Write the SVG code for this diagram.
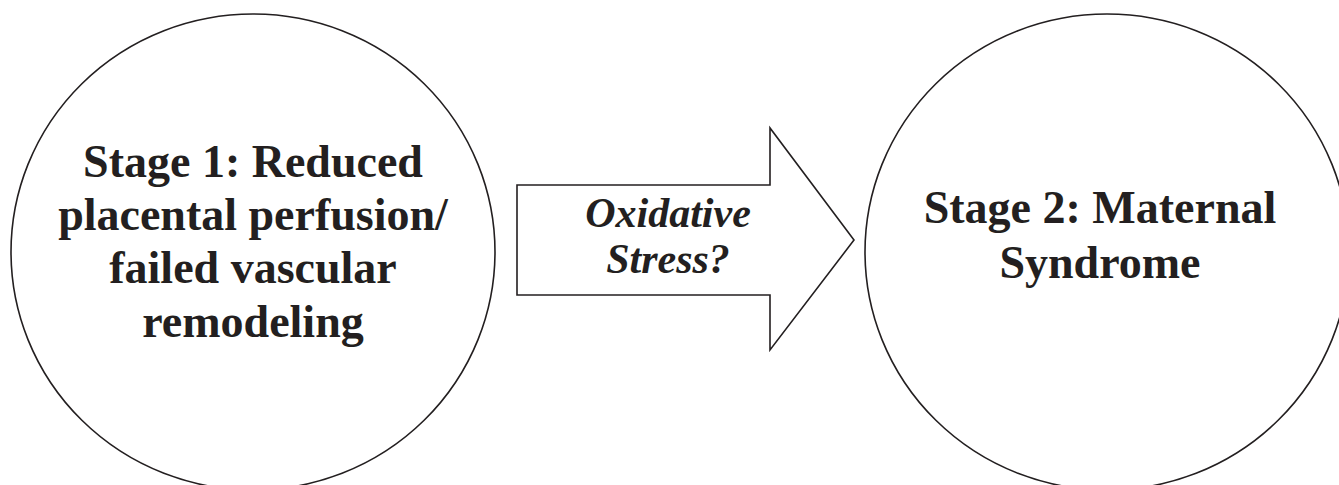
<svg xmlns="http://www.w3.org/2000/svg" width="1339" height="485" viewBox="0 0 1339 485">
<style>
.shape{fill:#fff;stroke:#231f20;stroke-width:1.6}
.t{font-family:"Liberation Serif","Times New Roman",serif;font-weight:bold;font-size:46px;fill:#231f20;text-anchor:middle}
.it{font-style:italic;font-size:42px}
</style>
<rect width="1339" height="485" fill="#fff"/>
<g id="stage1">
<ellipse class="shape" cx="253" cy="252" rx="242" ry="238"/>
<text class="t" x="253" y="177">Stage 1: Reduced</text>
<text class="t" x="253" y="230">placental perfusion/</text>
<text class="t" x="253" y="283">failed vascular</text>
<text class="t" x="253" y="337">remodeling</text>
</g>
<g id="stage2">
<ellipse class="shape" cx="1107" cy="252" rx="242" ry="238"/>
<text class="t" x="1100" y="223">Stage 2: Maternal</text>
<text class="t" x="1100" y="278">Syndrome</text>
</g>
<g id="connectors">
<path class="shape" d="M517 185 H770 V128 L854 240 L770 350 V295 H517 Z"/>
<text class="t it" x="668" y="227">Oxidative</text>
<text class="t it" x="668" y="273">Stress?</text>
</g>
</svg>
